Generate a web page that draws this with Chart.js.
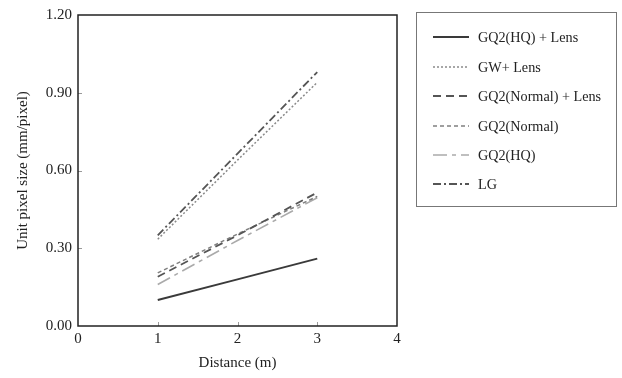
<!DOCTYPE html>
<html>
<head>
<meta charset="utf-8">
<script src="https://cdn.jsdelivr.net/npm/chart.js@4/dist/chart.umd.min.js"></script>
<style>
  html, body { margin: 0; padding: 0; background: #fff; }
  #wrap { position: relative; width: 622px; height: 378px; }
  #legend { position: absolute; left: 416px; top: 12px; width: 201px; height: 195px;
    border: 1px solid #777; box-sizing: border-box; font-family: "Liberation Serif", serif;
    font-size: 14.2px; color: #222; }
  .item { position: absolute; left: 16px; height: 16px; display: flex; align-items: center; white-space: nowrap; }
  .item svg { width: 36px; height: 6px; margin-right: 9px; }
</style>
</head>
<body>
<div id="wrap">
  <canvas id="c" width="622" height="378"></canvas>
  <div id="legend"></div>
</div>
<script>
const distances = [1, 2, 3];
const seriesNames = ["GQ2(HQ) + Lens", "GW+ Lens", "GQ2(Normal) + Lens", "GQ2(Normal)", "GQ2(HQ)", "LG"];
const gq2HqLens = [0.10, 0.18, 0.26];
const gwLens = [0.335, 0.64, 0.94];
const gq2NormalLens = [0.19, 0.35, 0.515];
const gq2Normal = [0.205, 0.355, 0.50];
const gq2Hq = [0.16, 0.33, 0.495];
const lg = [0.35, 0.665, 0.98];
const yTicks = [0, 0.3, 0.6, 0.9, 1.2];
const xTicks = [0, 1, 2, 3, 4];

const styles = [
  { color: "#3a3a3a", width: 2, dash: [] },
  { color: "#8a8a8a", width: 1.5, dash: [2, 2] },
  { color: "#555555", width: 1.8, dash: [8, 5] },
  { color: "#808080", width: 1.5, dash: [4, 3] },
  { color: "#aaaaaa", width: 1.6, dash: [14, 5, 4, 5] },
  { color: "#555555", width: 1.8, dash: [8, 3, 2, 3] }
];
const values = [gq2HqLens, gwLens, gq2NormalLens, gq2Normal, gq2Hq, lg];

const datasets = values.map((v, i) => ({
  label: seriesNames[i],
  data: distances.map((d, j) => ({ x: d, y: v[j] })),
  borderColor: styles[i].color,
  borderWidth: styles[i].width,
  borderDash: styles[i].dash,
  pointRadius: 0,
  fill: false,
  tension: 0
}));

const legendEl = document.getElementById("legend");
const legendY = [24, 54, 83, 113, 142, 171];
seriesNames.forEach((n, i) => {
  const s = styles[i];
  const d = document.createElement("div");
  d.className = "item";
  d.style.top = (legendY[i] - 8) + "px";
  d.innerHTML = '<svg viewBox="0 0 36 6"><line x1="0" y1="3" x2="36" y2="3" stroke="' + s.color +
    '" stroke-width="' + s.width + '" stroke-dasharray="' + (s.dash.length ? s.dash.join(",") : "none") + '"/></svg><span>' + n + '</span>';
  legendEl.appendChild(d);
});

const frame = {
  id: "frame",
  afterDraw(chart) {
    const a = chart.chartArea, ctx = chart.ctx;
    const xs = chart.scales.x, ys = chart.scales.y;
    ctx.save();
    ctx.strokeStyle = "#999";
    ctx.lineWidth = 1;
    ctx.beginPath();
    xTicks.slice(1, -1).forEach(v => {
      const px = Math.round(xs.getPixelForValue(v)) + 0.5;
      ctx.moveTo(px, a.bottom); ctx.lineTo(px, a.bottom - 4);
    });
    yTicks.slice(1, -1).forEach(v => {
      const py = Math.round(ys.getPixelForValue(v)) + 0.5;
      ctx.moveTo(a.left, py); ctx.lineTo(a.left + 4, py);
    });
    ctx.stroke();
    ctx.strokeStyle = "#222";
    ctx.lineWidth = 1.5;
    ctx.strokeRect(a.left, a.top, a.right - a.left, a.bottom - a.top);
    ctx.restore();
  }
};

const font = { family: "'Liberation Serif', serif", size: 15 };
const tfont = { family: "'Liberation Serif', serif", size: 15 };
new Chart(document.getElementById("c"), {
  type: "line",
  data: { datasets },
  options: {
    responsive: false,
    animation: false,
    layout: { padding: { left: 0, top: 14, right: 225, bottom: 0 } },
    plugins: { legend: { display: false }, tooltip: { enabled: false } },
    scales: {
      x: {
        type: "linear", min: 0, max: 4,
        afterBuildTicks: s => { s.ticks = xTicks.map(v => ({ value: v })); },
        grid: { display: false, drawTicks: false },
        border: { display: false },
        ticks: { color: "#222", font, padding: 4 },
        title: { display: true, text: "Distance (m)", color: "#222", font: tfont, padding: { top: 0, bottom: 6 } },
        afterFit: s => { s.height = 52; }
      },
      y: {
        type: "linear", min: 0, max: 1.2,
        afterBuildTicks: s => { s.ticks = yTicks.map(v => ({ value: v })); },
        grid: { display: false, drawTicks: false },
        border: { display: false },
        ticks: { color: "#222", font, padding: 6, callback: v => Number(v).toFixed(2) },
        title: { display: true, text: "Unit pixel size (mm/pixel)", color: "#222", font: tfont, padding: { top: 14, bottom: 0 } },
        afterFit: s => { s.width = 78; }
      }
    }
  },
  plugins: [frame]
});
</script>
</body>
</html>
